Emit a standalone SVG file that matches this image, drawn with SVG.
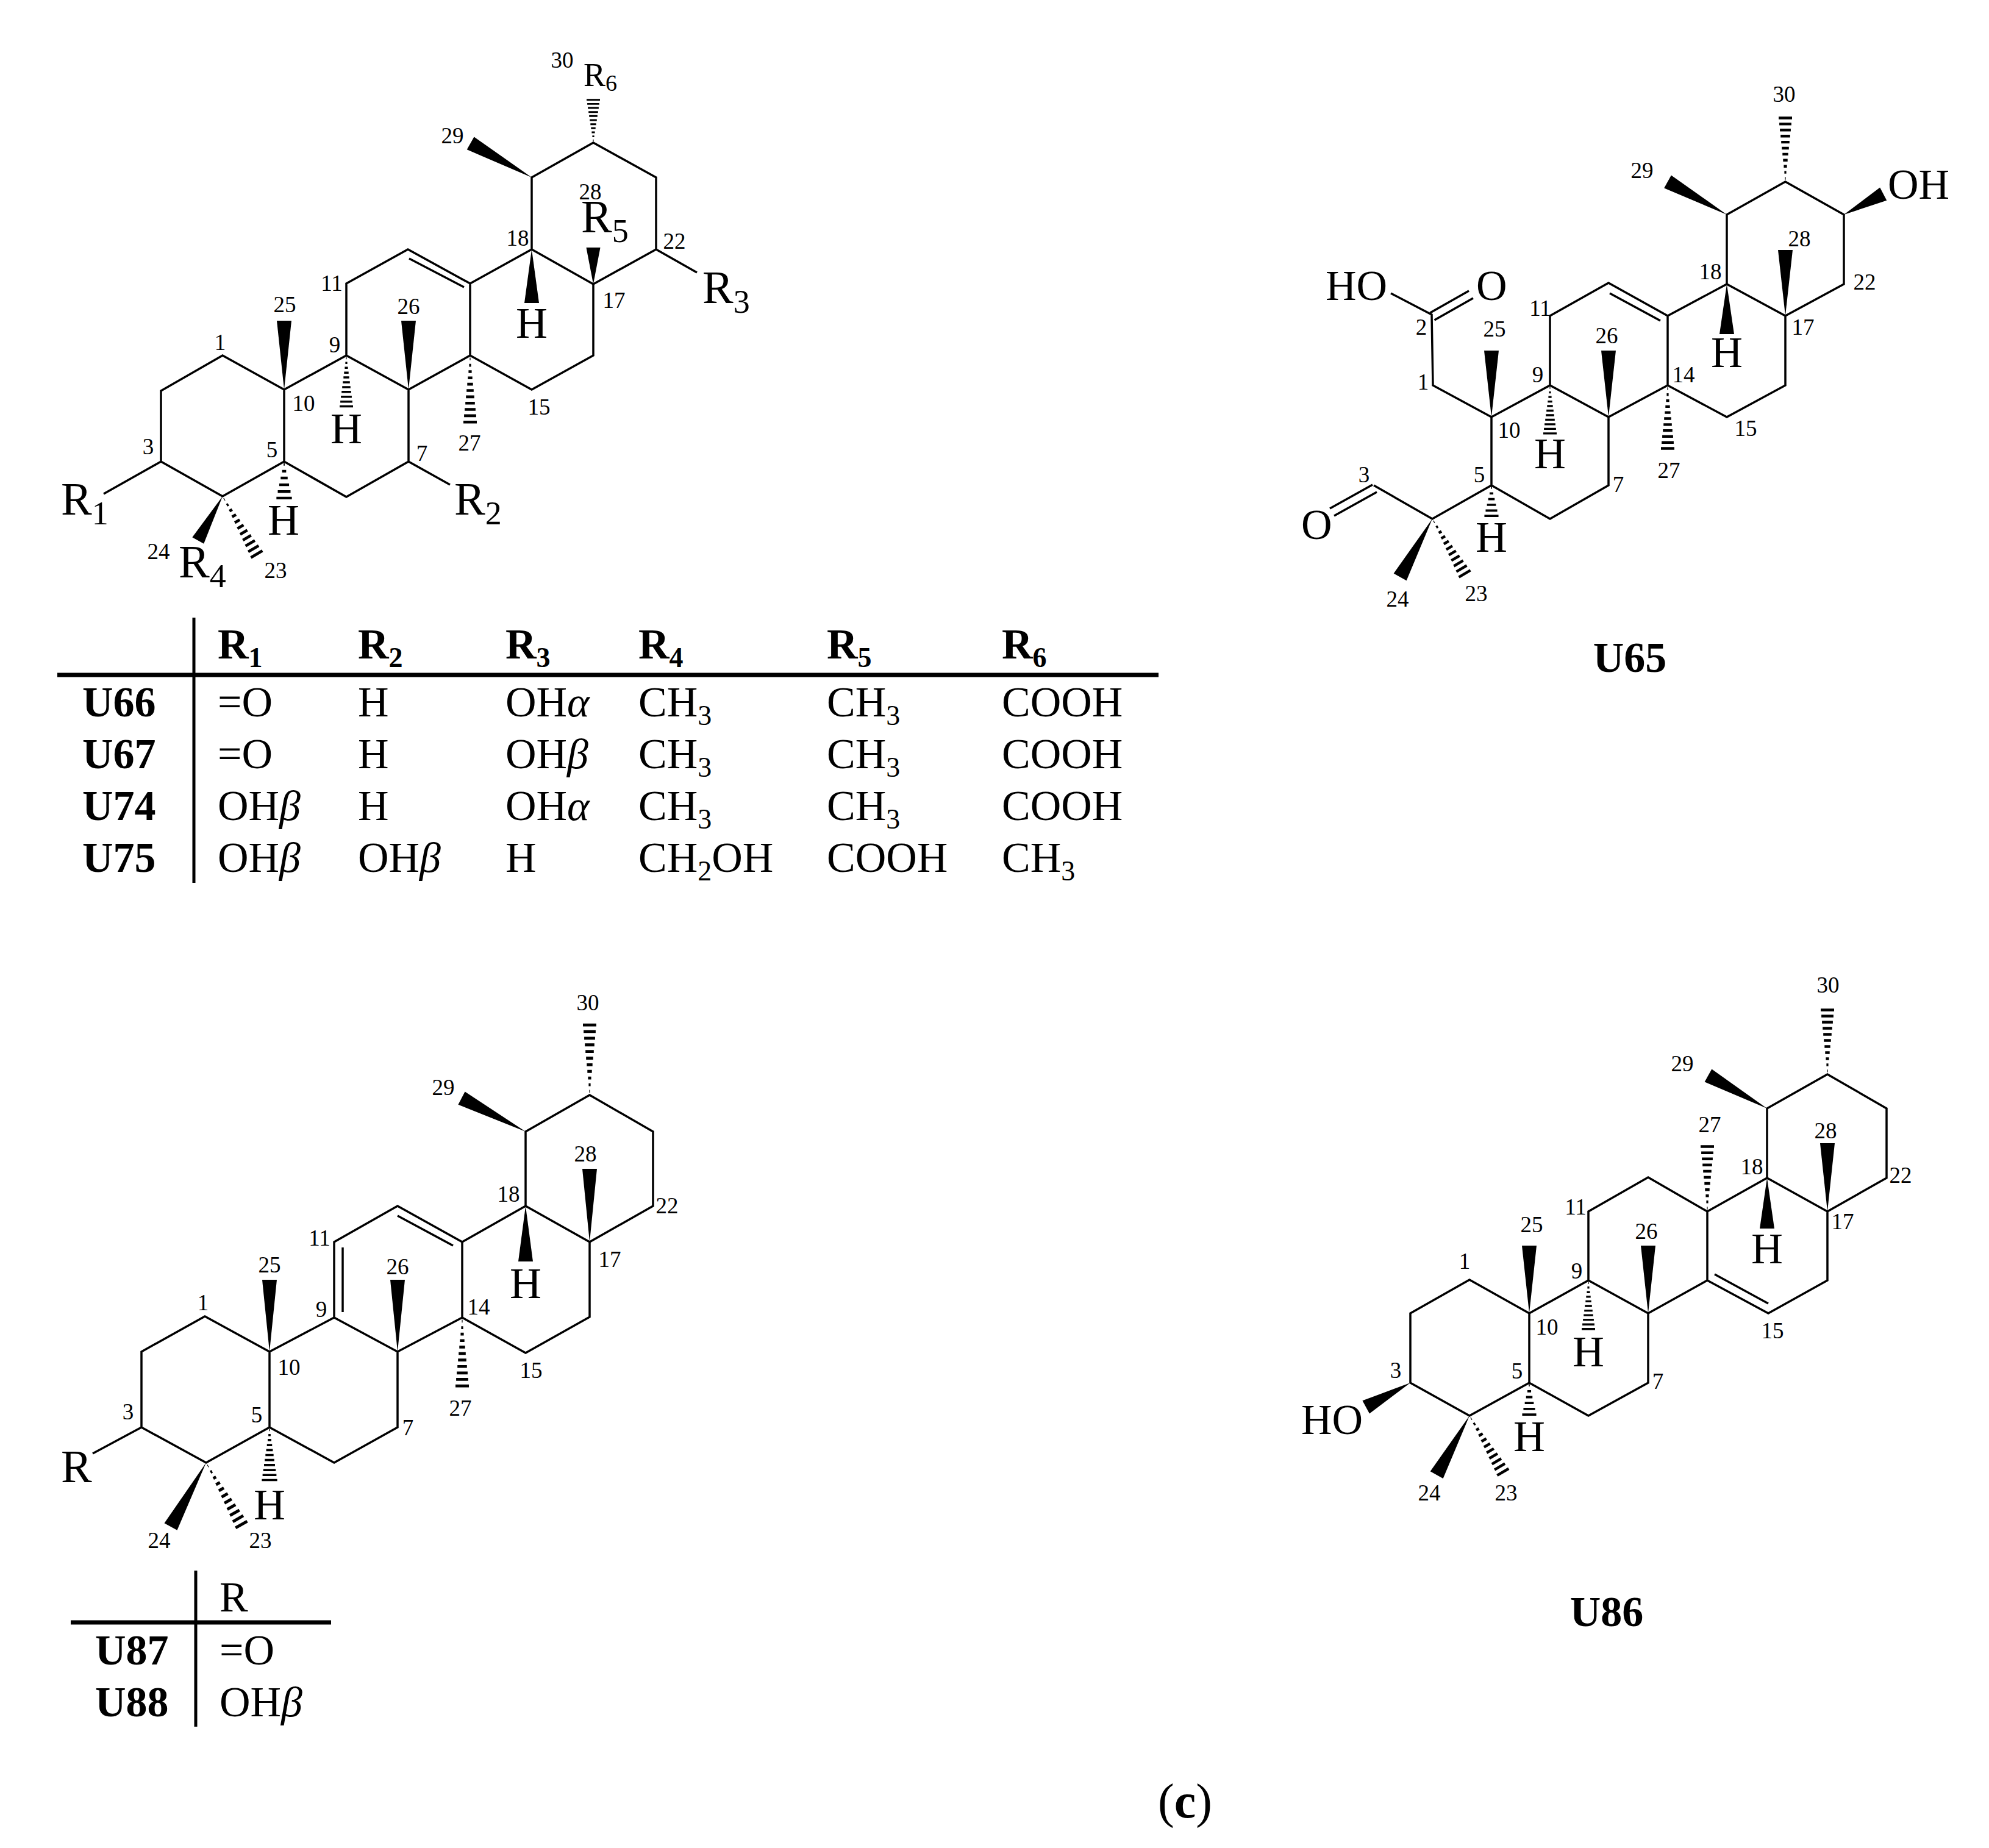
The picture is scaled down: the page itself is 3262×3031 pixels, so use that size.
<svg xmlns="http://www.w3.org/2000/svg" width="3262" height="3031" viewBox="0 0 3262 3031">
<style>
text{font-family:"Liberation Serif","Times New Roman",serif;fill:#000}
.b{fill:none;stroke:#000;stroke-width:3.5;stroke-linejoin:miter;stroke-linecap:butt}
.n{font-size:37px;text-anchor:middle}
.a{font-size:76px}
.h{font-size:72px;text-anchor:middle}
.s{font-size:54px}
.t{font-size:70px}
.ts{font-size:46px}
.tb{font-size:70px;font-weight:bold}
.tbs{font-size:46px;font-weight:bold}
.i{font-style:italic}
.r{fill:none;stroke:#000;stroke-width:5}
.rh{fill:none;stroke:#000;stroke-width:7}
</style>
<defs>
<polygon id="w" points="0,0 -12,-100 12,-100"/>
<path id="x" d="M-.6-3h1.2v-4h-1.2zM-1.6-12h3.2v-4h-3.2zM-2.6-21h5.2v-4h-5.2zM-3.7-30h7.4v-4h-7.4zM-4.7-39h9.4v-4h-9.4zM-5.8-48h11.6v-4h-11.6zM-6.8-57h13.6v-4h-13.6zM-7.8-66h15.6v-4h-15.6zM-8.9-75h17.8v-4h-17.8zM-9.9-84h19.8v-4h-19.8zM-11-93h22v-4h-22z"/>
<path id="y" d="M-.8-4h1.6v-7h-1.6zM-2.9-22h5.8v-7h-5.8zM-5-40h10v-7h-10zM-7-58h14v-7h-14zM-9.1-76h18.2v-7h-18.2zM-11-93h22v-7h-22z"/>
</defs>
<rect width="3262" height="3031" fill="#fff"/>

<g id="scaffold-U66-U75">
<g id="bonds-1">
<path class="b" d="M466 639L365 583L264 641L264 757L365 814L466 757ZM466 639L568 583L670 639L670 757L568 815L466 757M568 583L568 465L669 409L771 465L771 583L670 639M771 465L872 409L973 466L973 583L872 639L771 583M872 409L872 291L973 234L1076 291L1076 409L973 466M264 757L170 810M670 757L738 795M1076 409L1143 447M671 424L761 471"/>
<use href="#w" transform="translate(466 639) scale(1 1.13)"/>
<use href="#w" transform="translate(670 639) scale(1 1.13)"/>
<use href="#w" transform="translate(872 409) rotate(180) scale(1 .88)"/>
<use href="#w" transform="translate(973 466) scale(.96 .6)"/>
<use href="#w" transform="translate(872 291) rotate(-60.8) scale(1 1.15)"/>
<use href="#w" transform="translate(365 814) rotate(209) scale(.9 .83)"/>
<use href="#x" transform="translate(568 583) rotate(180) scale(1 .88)"/>
<use href="#x" transform="translate(771 583) rotate(180) scale(1 1.15)"/>
<use href="#y" transform="translate(466 757) rotate(180) scale(1.15 .62)"/>
<use href="#x" transform="translate(973 234) scale(1 .74)"/>
<use href="#x" transform="translate(365 814) rotate(149.5) scale(1 1.16)"/>
</g>
<g id="labels-1">
<text class="n" x="922" y="111">30</text><text class="n" x="742" y="235">29</text><text class="n" x="968" y="327">28</text><text class="n" x="1106" y="408">22</text><text class="n" x="849" y="403">18</text><text class="n" x="1007" y="505">17</text><text class="n" x="544" y="477">11</text><text class="n" x="467" y="512">25</text><text class="n" x="670" y="515">26</text><text class="n" x="361" y="574">1</text><text class="n" x="549" y="578">9</text><text class="n" x="498" y="674">10</text><text class="n" x="884" y="680">15</text><text class="n" x="770" y="739">27</text><text class="n" x="243" y="745">3</text><text class="n" x="446" y="750">5</text><text class="n" x="692" y="756">7</text><text class="n" x="260" y="917">24</text><text class="n" x="452" y="948">23</text>
<text x="957" y="141" style="font-size:54px">R<tspan style="font-size:38px" dy="8">6</tspan></text>
<text class="a" x="953" y="381">R<tspan class="s" dy="16">5</tspan></text>
<text class="a" x="1152" y="497">R<tspan class="s" dy="16">3</tspan></text>
<text class="a" x="100" y="844">R<tspan class="s" dy="16">1</tspan></text>
<text class="a" x="745" y="844">R<tspan class="s" dy="16">2</tspan></text>
<text class="a" x="293" y="947">R<tspan class="s" dy="16">4</tspan></text>
<text class="h" x="872" y="554">H</text><text class="h" x="568" y="727">H</text><text class="h" x="465" y="877">H</text>
</g>
</g>

<g id="table-1">
<path class="r" d="M318 1013V1448"/><path class="rh" d="M94 1107H1900"/>
<text class="tb" x="357" y="1080">R<tspan class="tbs" dy="14">1</tspan></text><text class="tb" x="587" y="1080">R<tspan class="tbs" dy="14">2</tspan></text><text class="tb" x="829" y="1080">R<tspan class="tbs" dy="14">3</tspan></text><text class="tb" x="1047" y="1080">R<tspan class="tbs" dy="14">4</tspan></text><text class="tb" x="1356" y="1080">R<tspan class="tbs" dy="14">5</tspan></text><text class="tb" x="1643" y="1080">R<tspan class="tbs" dy="14">6</tspan></text>
<text class="tb" x="135" y="1175">U66</text><text class="t" x="357" y="1175">=O</text><text class="t" x="587" y="1175">H</text><text class="t" x="829" y="1175">OH<tspan class="i">α</tspan></text><text class="t" x="1047" y="1175">CH<tspan class="ts" dy="14">3</tspan></text><text class="t" x="1356" y="1175">CH<tspan class="ts" dy="14">3</tspan></text><text class="t" x="1643" y="1175">COOH</text>
<text class="tb" x="135" y="1260">U67</text><text class="t" x="357" y="1260">=O</text><text class="t" x="587" y="1260">H</text><text class="t" x="829" y="1260">OH<tspan class="i">β</tspan></text><text class="t" x="1047" y="1260">CH<tspan class="ts" dy="14">3</tspan></text><text class="t" x="1356" y="1260">CH<tspan class="ts" dy="14">3</tspan></text><text class="t" x="1643" y="1260">COOH</text>
<text class="tb" x="135" y="1345">U74</text><text class="t" x="357" y="1345">OH<tspan class="i">β</tspan></text><text class="t" x="587" y="1345">H</text><text class="t" x="829" y="1345">OH<tspan class="i">α</tspan></text><text class="t" x="1047" y="1345">CH<tspan class="ts" dy="14">3</tspan></text><text class="t" x="1356" y="1345">CH<tspan class="ts" dy="14">3</tspan></text><text class="t" x="1643" y="1345">COOH</text>
<text class="tb" x="135" y="1430">U75</text><text class="t" x="357" y="1430">OH<tspan class="i">β</tspan></text><text class="t" x="587" y="1430">OH<tspan class="i">β</tspan></text><text class="t" x="829" y="1430">H</text><text class="t" x="1047" y="1430">CH<tspan class="ts" dy="14">2</tspan><tspan dy="-14">OH</tspan></text><text class="t" x="1356" y="1430">COOH</text><text class="t" x="1643" y="1430">CH<tspan class="ts" dy="14">3</tspan></text>
</g>

<g id="molecule-U65">
<g id="bonds-2">
<path class="b" d="M2446 684L2350 632L2348 516L2281 481M2446 684L2542 632L2638 684L2735 632L2735 518L2638 464L2542 518L2542 632M2446 684L2446 796L2349 851L2253 796M2446 796L2542 851L2638 796L2638 684M2735 632L2832 684L2928 632L2928 518L2832 466L2735 518M2832 466L2832 352L2928 298L3024 352L3024 466L2928 518M2640 481L2723 526M2345.5 513L2409 477M2352.5 525L2416 489M2251 795L2181 834M2258 807L2188 846"/>
<use href="#w" transform="translate(2446 684) scale(1 1.09)"/>
<use href="#w" transform="translate(2638 684) scale(1 1.09)"/>
<use href="#w" transform="translate(2832 466) rotate(180) scale(1 .82)"/>
<use href="#w" transform="translate(2928 518) scale(1 1.08)"/>
<use href="#w" transform="translate(2832 352) rotate(-60.9) scale(1 1.11)"/>
<use href="#w" transform="translate(3024 352) rotate(62.4) scale(1 .73)"/>
<use href="#w" transform="translate(2349 851) rotate(209) scale(1 1.09)"/>
<use href="#x" transform="translate(2542 632) rotate(180) scale(1 .83)"/>
<use href="#x" transform="translate(2735 632) rotate(180) scale(1 1.09)"/>
<use href="#y" transform="translate(2446 796) rotate(180) scale(1.05 .52)"/>
<use href="#x" transform="translate(2928 298) scale(1 1.1)"/>
<use href="#x" transform="translate(2349 851) rotate(149.5) scale(1 1.1)"/>
</g>
<g id="labels-2">
<text class="n" x="2926" y="167">30</text><text class="n" x="2693" y="292">29</text><text class="n" x="2951" y="404">28</text><text class="n" x="3058" y="475">22</text><text class="n" x="2805" y="458">18</text><text class="n" x="2957" y="549">17</text><text class="n" x="2526" y="518">11</text><text class="n" x="2451" y="552">25</text><text class="n" x="2635" y="563">26</text><text class="n" x="2331" y="549">2</text><text class="n" x="2334" y="639">1</text><text class="n" x="2522" y="627">9</text><text class="n" x="2761" y="627">14</text><text class="n" x="2475" y="718">10</text><text class="n" x="2863" y="715">15</text><text class="n" x="2237" y="791">3</text><text class="n" x="2426" y="791">5</text><text class="n" x="2654" y="807">7</text><text class="n" x="2737" y="784">27</text><text class="n" x="2421" y="986">23</text><text class="n" x="2292" y="995">24</text>
<text class="t" x="3096" y="326">OH</text><text class="t" x="2174" y="492">HO</text><text class="t" x="2421" y="492">O</text><text class="t" x="2134" y="884">O</text>
<text class="h" x="2832" y="602">H</text><text class="h" x="2542" y="768">H</text><text class="h" x="2446" y="905">H</text>
<text class="tb" x="2673" y="1102" text-anchor="middle">U65</text>
</g>
</g>

<g id="scaffold-U87-U88">
<g id="bonds-3">
<path class="b" d="M442 2217L336 2159L232 2217L232 2341L338 2399L442 2341ZM442 2217L548 2161L652 2217L652 2341L548 2399L442 2341M548 2161L548 2037L652 1978L758 2037L758 2161L652 2217M758 2037L862 1978L967 2037L967 2160L862 2219L758 2161M862 1978L862 1856L967 1796L1071 1856L1071 1978L967 2037M232 2341L152 2384M562 2046L562 2152M652 1994L743 2043"/>
<use href="#w" transform="translate(442 2217) scale(1 1.18)"/>
<use href="#w" transform="translate(652 2217) scale(1 1.18)"/>
<use href="#w" transform="translate(862 1978) rotate(180) scale(1 .91)"/>
<use href="#w" transform="translate(967 2037) scale(1 1.2)"/>
<use href="#w" transform="translate(862 1856) rotate(-62.4) scale(1 1.185)"/>
<use href="#w" transform="translate(338 2399) rotate(208.9) scale(1 1.2)"/>
<use href="#x" transform="translate(758 2161) rotate(180) scale(1 1.18)"/>
<use href="#x" transform="translate(442 2341) rotate(180) scale(1.15 .91)"/>
<use href="#x" transform="translate(967 1796) scale(1 1.21)"/>
<use href="#x" transform="translate(338 2399) rotate(150.3) scale(1 1.23)"/>
</g>
<g id="labels-3">
<text class="n" x="964" y="1657">30</text><text class="n" x="727" y="1796">29</text><text class="n" x="960" y="1905">28</text><text class="n" x="1094" y="1990">22</text><text class="n" x="834" y="1971">18</text><text class="n" x="1000" y="2078">17</text><text class="n" x="524" y="2043">11</text><text class="n" x="442" y="2087">25</text><text class="n" x="652" y="2090">26</text><text class="n" x="333" y="2149">1</text><text class="n" x="527" y="2160">9</text><text class="n" x="785" y="2156">14</text><text class="n" x="474" y="2255">10</text><text class="n" x="871" y="2260">15</text><text class="n" x="755" y="2322">27</text><text class="n" x="210" y="2328">3</text><text class="n" x="421" y="2333">5</text><text class="n" x="669" y="2354">7</text><text class="n" x="261" y="2539">24</text><text class="n" x="427" y="2539">23</text>
<text class="a" x="100" y="2431">R</text>
<text class="h" x="862" y="2129">H</text><text class="h" x="442" y="2492">H</text>
</g>
</g>

<g id="table-2">
<path class="r" d="M321 2576V2832"/><path class="rh" d="M116 2661H543"/>
<text class="t" x="360" y="2643">R</text>
<text class="tb" x="156" y="2730">U87</text><text class="t" x="360" y="2730">=O</text>
<text class="tb" x="156" y="2815">U88</text><text class="t" x="360" y="2815">OH<tspan class="i">β</tspan></text>
</g>

<g id="molecule-U86">
<g id="bonds-4">
<path class="b" d="M2508 2154L2410 2099L2313 2154L2313 2268L2410 2322L2508 2268ZM2508 2154L2605 2100L2703 2154L2703 2268L2605 2322L2508 2268M2605 2100L2605 1987L2703 1931L2800 1987L2800 2100L2703 2154M2800 1987L2898 1932L2997 1987L2997 2100L2900 2154L2800 2100M2898 1932L2898 1818L2997 1762L3094 1818L3094 1932L2997 1987M2812 2090L2900 2138"/>
<use href="#w" transform="translate(2508 2154) scale(1 1.11)"/>
<use href="#w" transform="translate(2703 2154) scale(1 1.11)"/>
<use href="#w" transform="translate(2898 1932) rotate(180) scale(1 .83)"/>
<use href="#w" transform="translate(2997 1987) scale(1 1.12)"/>
<use href="#w" transform="translate(2898 1818) rotate(-60.8) scale(1 1.106)"/>
<use href="#w" transform="translate(2313 2268) rotate(241.3) scale(1 .83)"/>
<use href="#w" transform="translate(2410 2322) rotate(209) scale(1 1.11)"/>
<use href="#x" transform="translate(2800 1987) scale(1 1.12)"/>
<use href="#x" transform="translate(2605 2100) rotate(180) scale(1 .84)"/>
<use href="#y" transform="translate(2508 2268) rotate(180) scale(1.05 .54)"/>
<use href="#x" transform="translate(2997 1762) scale(1 1.11)"/>
<use href="#x" transform="translate(2410 2322) rotate(149.3) scale(1 1.13)"/>
</g>
<g id="labels-4">
<text class="n" x="2998" y="1628">30</text><text class="n" x="2759" y="1757">29</text><text class="n" x="2804" y="1857">27</text><text class="n" x="2994" y="1867">28</text><text class="n" x="3117" y="1940">22</text><text class="n" x="2873" y="1926">18</text><text class="n" x="3022" y="2016">17</text><text class="n" x="2584" y="1992">11</text><text class="n" x="2512" y="2021">25</text><text class="n" x="2700" y="2032">26</text><text class="n" x="2402" y="2081">1</text><text class="n" x="2586" y="2097">9</text><text class="n" x="2537" y="2189">10</text><text class="n" x="2907" y="2195">15</text><text class="n" x="2289" y="2260">3</text><text class="n" x="2488" y="2261">5</text><text class="n" x="2719" y="2278">7</text><text class="n" x="2344" y="2461">24</text><text class="n" x="2470" y="2461">23</text>
<text class="t" x="2134" y="2352">HO</text>
<text class="h" x="2898" y="2072">H</text><text class="h" x="2605" y="2241">H</text><text class="h" x="2508" y="2380">H</text>
<text class="tb" x="2635" y="2667" text-anchor="middle">U86</text>
</g>
</g>

<text id="panel-label" x="1899" y="2981" style="font-size:80px">(<tspan font-weight="bold">c</tspan>)</text>
</svg>
